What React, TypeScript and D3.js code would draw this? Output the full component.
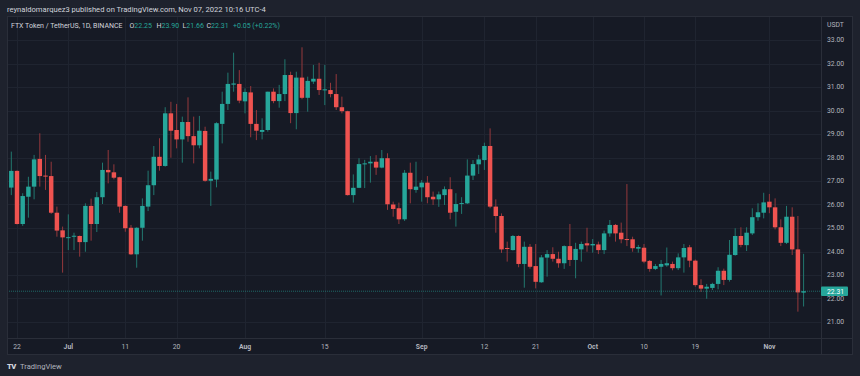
import React from 'react';
import * as d3 from 'd3';

const W = 860;
const H = 376;

const startDay = '2022-06-20';

const opens = [
  25.06, 26.72, 27.43, 25.17, 26.33, 26.76, 27.94, 27.23, 27.21, 25.65, 24.9,
  24.58, 24.63, 24.66, 24.4, 25.94, 25.17, 26.31, 27.47, 27.37, 27.16, 25.94, 25.01, 23.88, 25.01, 25.91, 26.82, 28.03, 27.64, 29.88, 29.17, 28.77, 29.51, 28.91, 28.52, 29.13, 27.01, 27.06, 29.43, 30.28, 31.1, 31.13,
  30.39, 30.77, 29.43, 29.09, 29.17, 30.8, 30.4, 30.7, 31.51, 29.89, 31.4, 30.54, 31.23, 31.35, 30.87, 30.87, 30.7, 30.14, 29.97, 26.4, 26.71, 27.72, 27.75, 27.82, 27.57, 27.97, 26.0, 25.84, 25.37, 27.35, 26.62,
  26.73, 26.93, 26.33, 26.22, 26.4, 26.65, 25.69, 26.03, 26.05, 27.23, 27.71, 27.89, 28.49, 25.91, 25.51, 24.15, 24.06, 24.66, 23.47, 24.2, 23.38, 22.69, 23.74, 23.89, 23.69, 23.5, 24.23, 23.64, 24.09, 24.35,
  24.26, 24.3, 24.06, 24.77, 25.13, 24.8, 24.53, 24.52, 24.12, 24.16, 23.6, 23.26, 23.35, 23.41, 23.47, 23.29, 23.75, 24.18, 23.61, 22.57, 22.42, 22.45, 22.62, 23.18, 22.79, 23.85, 24.66, 24.27, 24.77, 25.46, 25.65,
  26.12, 25.88, 25.03, 24.37, 25.48, 24.09, 22.25,
];
const highs = [
  26.8, 28.25, 27.45, 26.48, 27.18, 28.11, 29.03, 28.11, 27.82, 25.91, 25.06,
  25.58, 24.8, 24.68, 26.05, 26.25, 26.53, 27.78, 28.32, 27.71, 27.18, 25.96, 25.13, 25.03, 26.26, 27.44, 28.49, 28.82, 30.14, 30.37, 30.28, 29.74, 30.56, 29.74, 29.77, 29.31, 27.4, 29.5, 30.8, 31.61, 32.46, 31.72,
  30.94, 31.04, 30.02, 29.67, 30.8, 30.94, 31.09, 32.18, 31.65, 31.65, 32.69, 31.44, 31.94, 32.03, 31.94, 31.18, 31.55, 30.59, 29.99, 27.28, 27.97, 27.9, 28.06, 28.1, 28.32, 28.18, 26.12, 26.08, 27.47, 27.78, 27.82,
  27.04, 27.21, 26.55, 26.55, 26.77, 27.16, 26.48, 26.31, 27.92, 27.89, 28.11, 28.63, 29.24, 26.22, 25.62, 24.42, 24.7, 24.69, 24.42, 24.32, 24.32, 23.85, 24.06, 24.18, 23.99, 24.26, 25.17, 24.37, 24.42, 25.01,
  24.53, 24.42, 24.89, 25.34, 25.17, 25.23, 26.87, 24.63, 24.28, 24.32, 23.64, 23.47, 23.64, 24.17, 23.57, 23.92, 24.32, 24.28, 23.66, 22.82, 22.62, 22.67, 23.33, 23.27, 24.49, 24.99, 25.03, 25.03, 25.84, 26.05, 26.5,
  26.45, 26.26, 25.37, 25.94, 25.88, 25.51, 23.9,
];
const lows = [
  25.0, 26.4, 25.15, 25.09, 25.44, 26.22, 26.76, 26.62, 25.6, 24.63, 23.1,
  24.06, 24.06, 23.78, 23.99, 24.46, 24.83, 26.02, 26.9, 27.07, 25.65, 24.84, 23.85, 23.31, 24.46, 25.72, 26.4, 27.44, 27.61, 27.99, 28.39, 27.78, 28.67, 27.75, 28.39, 26.97, 25.94, 26.73, 28.6, 30.02, 30.8, 30.31,
  29.88, 28.86, 28.74, 28.77, 29.1, 30.31, 30.12, 30.4, 29.46, 29.2, 30.48, 29.95, 31.13, 30.66, 30.23, 30.56, 30.02, 29.88, 26.38, 26.08, 26.7, 26.7, 26.93, 27.26, 27.54, 25.77, 25.48, 25.17, 25.3, 26.05, 26.5,
  26.12, 26.05, 25.98, 25.9, 25.98, 25.37, 25.06, 25.6, 26.02, 27.04, 27.3, 27.47, 25.84, 24.8, 23.94, 23.57, 24.04, 23.33, 22.46, 23.27, 22.43, 22.67, 22.93, 23.57, 23.31, 23.26, 23.38, 22.86, 23.57, 23.99,
  23.95, 23.89, 23.89, 24.63, 24.42, 24.35, 24.23, 23.99, 23.95, 23.5, 23.14, 23.21, 22.13, 23.35, 23.2, 23.21, 23.1, 23.33, 22.5, 22.28, 21.99, 22.36, 22.39, 22.57, 22.72, 23.82, 24.18, 24.02, 24.7, 25.31, 25.41,
  25.63, 24.94, 24.23, 24.32, 23.85, 21.44, 21.66,
];
const closes = [
  26.69, 27.43, 25.17, 26.36, 26.76, 27.92, 27.21, 27.2, 25.65, 24.89, 24.6,
  24.61, 24.67, 24.4, 25.94, 25.17, 26.31, 27.47, 27.37, 27.14, 25.91, 24.99, 23.88, 25.01, 25.94, 26.82, 28.03, 27.64, 29.88, 29.14, 28.77, 29.51, 28.91, 28.52, 29.14, 27.01, 27.09, 29.46, 30.28, 31.13, 31.15, 30.42,
  30.79, 29.43, 29.14, 29.17, 30.8, 30.4, 30.7, 31.51, 29.89, 31.4, 30.54, 31.26, 31.35, 30.87, 30.9, 30.7, 30.14, 29.97, 26.4, 26.71, 27.72, 27.75, 27.82, 27.57, 27.97, 26.01, 25.81, 25.37, 27.35, 26.65, 26.76,
  26.93, 26.31, 26.22, 26.43, 26.65, 25.65, 26.02, 26.06, 27.23, 27.72, 27.92, 28.49, 25.91, 25.51, 24.09, 24.13, 24.66, 23.47, 24.2, 23.35, 22.71, 23.75, 23.89, 23.69, 23.5, 24.23, 23.64, 24.11, 24.32, 24.26,
  24.32, 24.06, 24.77, 25.13, 24.77, 24.52, 24.5, 24.14, 24.19, 23.57, 23.26, 23.38, 23.47, 23.5, 23.29, 23.75, 24.15, 23.61, 22.57, 22.42, 22.5, 22.62, 23.18, 22.79, 23.86, 24.66, 24.28, 24.8, 25.46, 25.67, 26.09,
  25.88, 25.03, 24.37, 25.48, 24.09, 22.26, 22.31,
];

const priceTicks = [21, 22, 23, 24, 25, 26, 27, 28, 29, 30, 31, 32, 33];
const timeTickDates = ['2022-06-22', '2022-07-01', '2022-07-11', '2022-07-20', '2022-08-01', '2022-08-15', '2022-09-01', '2022-09-12', '2022-09-21', '2022-10-01', '2022-10-10', '2022-10-19', '2022-11-01'];
const timeTickLabels = ['22', 'Jul', '11', '20', 'Aug', '15', 'Sep', '12', '21', 'Oct', '10', '19', 'Nov'];
const monthLabels = ['Jul', 'Aug', 'Sep', 'Oct', 'Nov'];

const lastPrice = 22.31;
const headerText = 'reynaldomarquez3 published on TradingView.com, Nov 07, 2022 10:16 UTC-4';
const symbolText = 'FTX Token / TetherUS, 1D, BINANCE';
const ohlcLetters = ['O', 'H', 'L', 'C'];
const ohlcValues = ['22.25', '23.90', '21.66', '22.31'];
const changeText = '+0.05 (+0.22%)';

const UP = '#26a69a';
const DOWN = '#ef5350';
const UP_WICK = '#22786f';
const DOWN_WICK = '#94383c';
const FONT = 'Roboto, "Noto Sans", sans-serif';

const plot = { left: 7, right: 821, top: 16, bottom: 338 };
const frame = { right: 853, bottom: 355 };

export default function App() {
  const parse = (s: string) => new Date(s + 'T00:00:00Z');
  const t0 = parse(startDay);
  const dates = d3.range(opens.length).map((i) => d3.utcDay.offset(t0, i));
  const x = d3.scaleUtc().domain([dates[0], dates[dates.length - 1]]).range([5.6, 803.6]);
  const y = d3.scaleLinear().domain([21, 33]).range([322, 40]);
  const step = x(dates[1]) - x(dates[0]);
  const bw = step * 0.78;

  const ohlcX = [129.5, 156.5, 182.5, 206.5];

  return (
    <svg width={W} height={H} style={{ position: 'absolute', left: 0, top: 0, display: 'block' }} fontFamily={FONT}>
      <rect x={0} y={0} width={W} height={H} fill="#1e222d" />
      <rect x={plot.left} y={plot.top} width={frame.right - plot.left} height={frame.bottom - plot.top} fill="#161a25" />
      <defs>
        <clipPath id="plotClip">
          <rect x={plot.left} y={plot.top} width={plot.right - plot.left} height={plot.bottom - plot.top} />
        </clipPath>
      </defs>
      {/* grid */}
      <g stroke="#1f2430" strokeWidth={1}>
        {priceTicks.map((p) => (
          <line key={'h' + p} x1={plot.left} x2={plot.right} y1={Math.round(y(p)) + 0.5} y2={Math.round(y(p)) + 0.5} />
        ))}
        {timeTickDates.map((d) => (
          <line key={'v' + d} x1={Math.round(x(parse(d))) + 0.5} x2={Math.round(x(parse(d))) + 0.5} y1={plot.top} y2={plot.bottom} />
        ))}
      </g>
      {/* candles */}
      <g clipPath="url(#plotClip)">
        {dates.map((d, i) => {
          const up = closes[i] >= opens[i];
          const cx = x(d);
          const yTop = y(Math.max(opens[i], closes[i]));
          const yBot = y(Math.min(opens[i], closes[i]));
          return (
            <g key={i}>
              <line x1={cx} x2={cx} y1={y(highs[i])} y2={y(lows[i])} stroke={up ? UP_WICK : DOWN_WICK} strokeWidth={1} />
              <rect x={cx - bw / 2} y={yTop} width={bw} height={Math.max(1, yBot - yTop)} fill={up ? UP : DOWN} />
            </g>
          );
        })}
        <line x1={plot.left} x2={plot.right} y1={y(lastPrice)} y2={y(lastPrice)} stroke={UP} strokeOpacity={0.55} strokeDasharray="1 1" />
      </g>
      {/* axes separators */}
      <g stroke="#2a2e39" strokeWidth={1} fill="none">
        <rect x={plot.left + 0.5} y={plot.top + 0.5} width={frame.right - plot.left - 1} height={frame.bottom - plot.top - 1} />
        <line x1={plot.right + 0.5} x2={plot.right + 0.5} y1={plot.top} y2={frame.bottom} />
        <line x1={plot.left} x2={frame.right} y1={plot.bottom + 0.5} y2={plot.bottom + 0.5} />
      </g>
      {/* price axis */}
      <text x={827} y={27} fontSize={6.8} fill="#b2b5be">USDT</text>
      {priceTicks.map((p) => (
        <text key={'pl' + p} x={827} y={y(p)} dy="0.35em" fontSize={6.8} fill="#b2b5be">{d3.format('.2f')(p)}</text>
      ))}
      <rect x={821} y={y(lastPrice) - 4.8} width={27} height={9.6} fill={UP} rx={1} />
      <text x={827} y={y(lastPrice)} dy="0.35em" fontSize={6.8} fill="#ffffff">{d3.format('.2f')(lastPrice)}</text>
      {/* time axis */}
      {timeTickDates.map((d, i) => (
        <text key={'tl' + d} x={x(parse(d))} y={347} dy="0.35em" textAnchor="middle" fontSize={6.8}
          fontWeight={monthLabels.includes(timeTickLabels[i]) ? 700 : 400} fill="#b2b5be">{timeTickLabels[i]}</text>
      ))}
      {/* header */}
      <text x={7} y={12} fontSize={7.6} fill="#d1d4dc">{headerText}</text>
      <text x={11} y={28} fontSize={7} fill="#d1d4dc">{symbolText}</text>
      {ohlcLetters.map((l, i) => (
        <text key={l} x={ohlcX[i]} y={28} fontSize={7} fill="#d1d4dc">
          {l}<tspan fill={UP}>{ohlcValues[i]}</tspan>
        </text>
      ))}
      <text x={233} y={28} fontSize={7} fill={UP}>{changeText}</text>
      {/* footer logo */}
      <text x={7} y={369} fontSize={7.6} fontWeight={900} fill="#d1d4dc" letterSpacing={-0.6}>TV</text>
      <text x={20} y={369} fontSize={7.6} fill="#b2b5be">TradingView</text>
    </svg>
  );
}
